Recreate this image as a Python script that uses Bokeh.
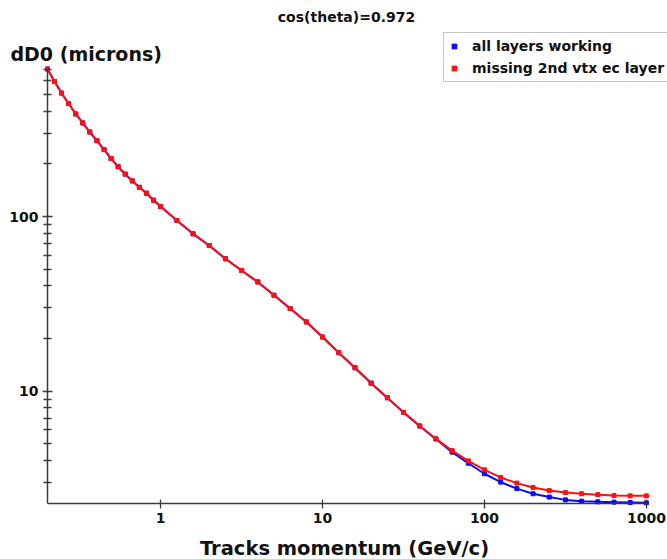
from bokeh.plotting import figure
from bokeh.models import FixedTicker, PrintfTickFormatter, Label, Legend, LegendItem, Range1d
from bokeh.embed import file_html
from bokeh.resources import INLINE

# ---- data ----
momentum = [0.2, 0.221, 0.244, 0.270, 0.299, 0.330, 0.365, 0.404, 0.447, 0.494,
            0.546, 0.604, 0.668, 0.739, 0.817, 0.904,
            1.0, 1.259, 1.585, 1.995, 2.512, 3.162, 3.981, 5.012, 6.310, 7.943,
            10.0, 12.59, 15.85, 19.95, 25.12, 31.62, 39.81, 50.12, 63.10, 79.43,
            100.0, 125.9, 158.5, 199.5, 251.2, 316.2, 398.1, 501.2, 631.0, 794.3, 1000.0]

all_layers = [700, 594, 510, 444, 387, 344, 305, 272, 242, 215,
              193, 175, 160, 147, 136, 124,
              114, 94.9, 79.6, 68.2, 57.3, 49.1, 42.2, 35.4, 29.7, 24.9,
              20.4, 16.6, 13.6, 11.1, 9.16, 7.55, 6.31, 5.32, 4.47, 3.86,
              3.36, 3.01, 2.76, 2.58, 2.47, 2.38, 2.34, 2.32, 2.31, 2.30, 2.29]

missing_2nd = [700, 594, 510, 444, 387, 344, 305, 272, 242, 215,
               193, 175, 160, 147, 136, 124,
               114, 94.9, 79.6, 68.2, 57.3, 49.1, 42.2, 35.4, 29.7, 24.9,
               20.4, 16.6, 13.6, 11.1, 9.16, 7.55, 6.31, 5.32, 4.56, 3.98,
               3.54, 3.20, 2.97, 2.80, 2.69, 2.62, 2.58, 2.55, 2.52, 2.51, 2.51]

series_names = ["all layers working", "missing 2nd vtx ec layer"]
x_ticks = [1, 10, 100, 1000]
y_ticks = [10, 100]
y_minor = [3, 4, 5, 6, 7, 8, 9, 20, 30, 40, 50, 60, 70, 80, 90,
           200, 300, 400, 500, 600, 700]

# axis extents (data) and visible canvas extents
x_axis_bounds = (0.2, 1000)
y_axis_bounds = (2.27, 705)
x_view = (0.1025, 1350)
y_view = (1.084, 1729)

title_text = "cos(theta)=0.972"
y_title = "dD0 (microns)"
x_title = "Tracks momentum (GeV/c)"

FONT = "DejaVu Sans"
BLUE = "#0a0aff"
RED = "#ff1010"
AXIS = "#3a3a3a"
W, H = 667, 559

p = figure(width=W, height=H, x_axis_type="log", y_axis_type="log",
           x_range=Range1d(*x_view), y_range=Range1d(*y_view),
           output_backend="svg", toolbar_location=None,
           min_border=0, min_border_left=0, min_border_right=0,
           min_border_top=0, min_border_bottom=0)
p.outline_line_color = None
p.grid.visible = False
p.background_fill_color = "white"
p.border_fill_color = "white"

for ax in (p.xaxis[0], p.yaxis[0]):
    ax.axis_line_color = AXIS
    ax.axis_line_width = 1.5
    ax.major_tick_line_color = AXIS
    ax.minor_tick_line_color = AXIS
    ax.major_tick_line_width = 1.3
    ax.minor_tick_line_width = 1.3
    ax.major_label_text_font = FONT
    ax.major_label_text_font_style = "bold"
    ax.major_label_text_font_size = "14px"
    ax.major_label_text_color = "#111111"
    ax.formatter = PrintfTickFormatter(format="%d")

p.xaxis.fixed_location = y_axis_bounds[0]
p.xaxis.bounds = x_axis_bounds
p.xaxis.ticker = FixedTicker(ticks=x_ticks, minor_ticks=[])
p.xaxis.major_tick_in = 4
p.xaxis.major_tick_out = 5
p.xaxis.major_label_standoff = 5

p.yaxis.fixed_location = x_axis_bounds[0]
p.yaxis.bounds = y_axis_bounds
p.yaxis.ticker = FixedTicker(ticks=y_ticks, minor_ticks=y_minor)
p.yaxis.major_tick_in = 5
p.yaxis.major_tick_out = 5
p.yaxis.minor_tick_in = 4
p.yaxis.minor_tick_out = 4
p.yaxis.major_label_standoff = 4

l_blue = p.line(momentum, all_layers, line_color=BLUE, line_width=2)
s_blue = p.scatter(momentum, all_layers, marker="square", size=4,
                   fill_color=BLUE, line_color=BLUE)
l_red = p.line(momentum, missing_2nd, line_color=RED, line_width=2)
s_red = p.scatter(momentum, missing_2nd, marker="square", size=4,
                  fill_color=RED, line_color=RED)

legend = Legend(items=[LegendItem(label=series_names[0], renderers=[s_blue]),
                       LegendItem(label=series_names[1], renderers=[s_red])],
                location=(443, 477),
                border_line_color="#8a8a8a", border_line_width=1,
                background_fill_color="white", background_fill_alpha=1.0,
                label_text_font=FONT, label_text_font_style="bold",
                label_text_font_size="14px", label_text_color="#111111",
                glyph_width=12, glyph_height=18, label_height=18,
                spacing=4, padding=4, margin=0, label_standoff=12)
p.add_layout(legend, "center")

p.add_layout(Label(x=346, y=H - 16, x_units="screen", y_units="screen",
                   text=title_text, text_align="center", text_baseline="middle",
                   text_font=FONT, text_font_style="bold", text_font_size="14px",
                   text_color="#111111"))
p.add_layout(Label(x=10, y=H - 53, x_units="screen", y_units="screen",
                   text=y_title, text_align="left", text_baseline="middle",
                   text_font=FONT, text_font_style="bold", text_font_size="19px",
                   text_color="#111111"))
p.add_layout(Label(x=344, y=H - 548, x_units="screen", y_units="screen",
                   text=x_title, text_align="center", text_baseline="middle",
                   text_font=FONT, text_font_style="bold", text_font_size="19.5px",
                   text_color="#111111"))

open("out.html", "w").write(file_html(p, INLINE))
